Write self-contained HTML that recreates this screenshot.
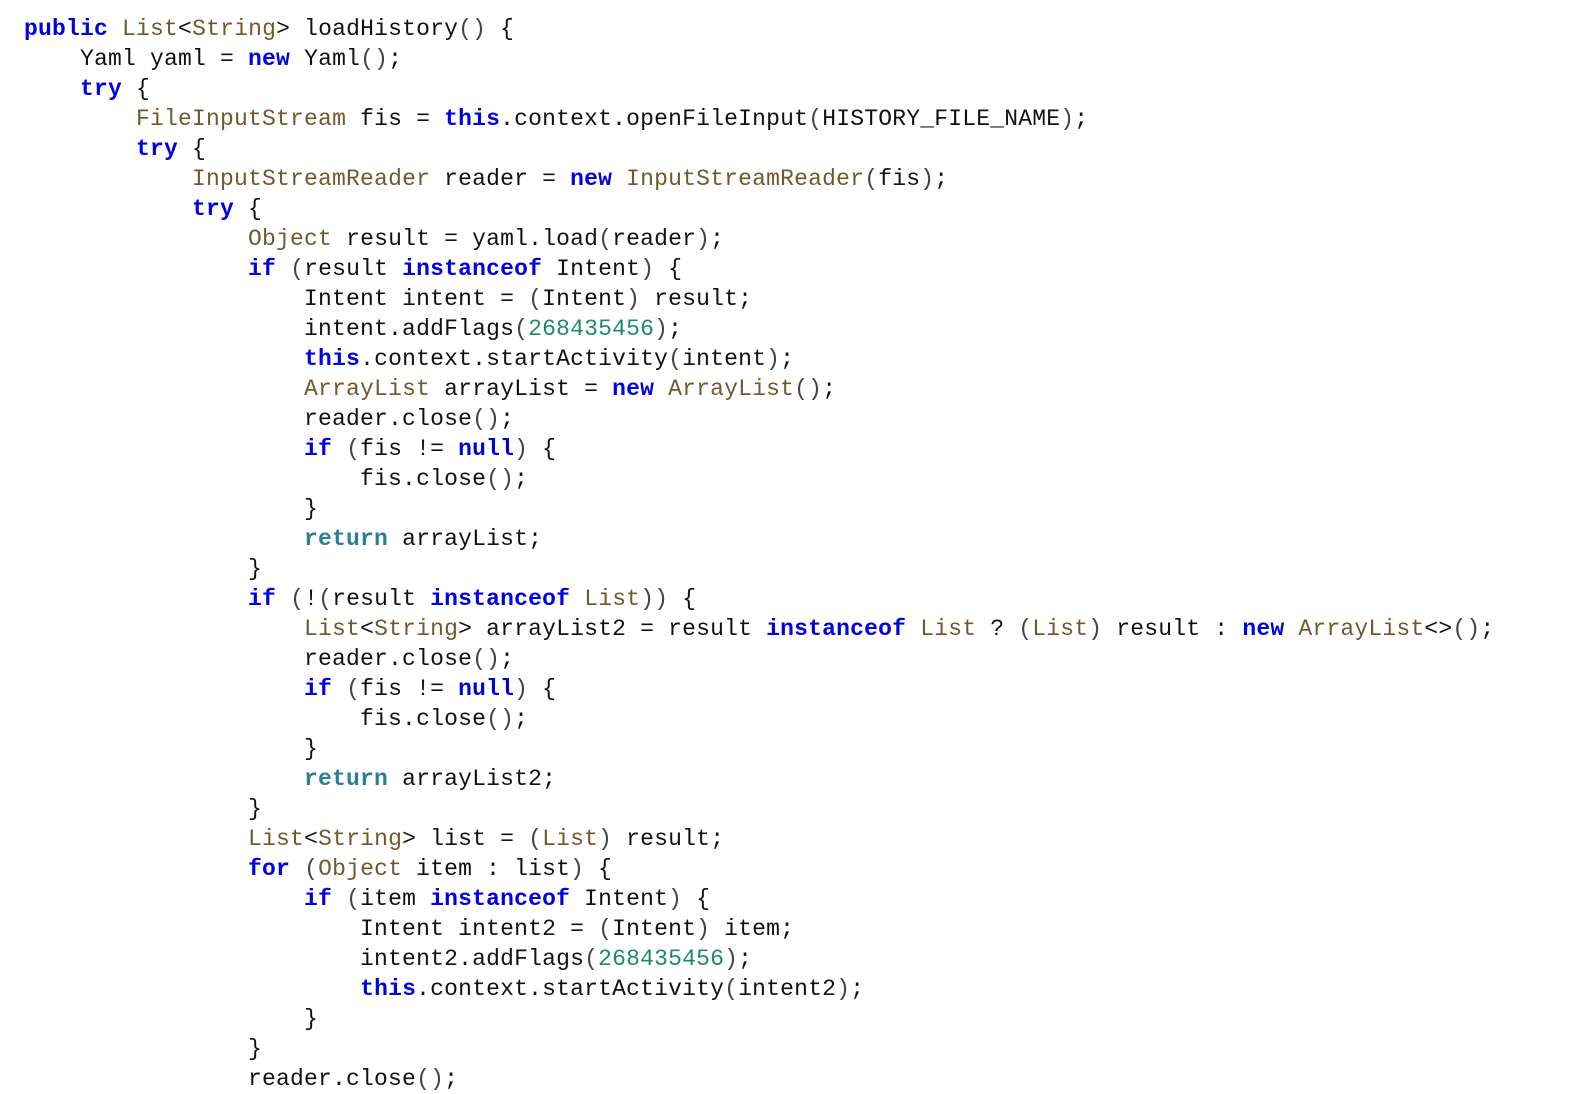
<!DOCTYPE html>
<html><head><meta charset="utf-8"><style>
html,body{margin:0;padding:0;background:#fff;width:1580px;height:1070px;overflow:hidden}
pre{margin:0;position:absolute;left:24px;top:14px;font-family:"Liberation Mono",monospace;font-size:23px;letter-spacing:0.2px;line-height:30px;color:#111}
.k{color:#0000e6;font-weight:bold}
.t{color:#74582c}
.n{color:#1e8a6a}
.r{color:#2a7f95;font-weight:bold}
.p{color:#444}
</style></head><body><pre><span class="k">public</span> <span class="t">List</span>&lt;<span class="t">String</span>&gt; loadHistory<span class="p">()</span> {
    Yaml yaml = <span class="k">new</span> Yaml<span class="p">()</span>;
    <span class="k">try</span> {
        <span class="t">FileInputStream</span> fis = <span class="k">this</span>.context.openFileInput<span class="p">(</span>HISTORY_FILE_NAME<span class="p">)</span>;
        <span class="k">try</span> {
            <span class="t">InputStreamReader</span> reader = <span class="k">new</span> <span class="t">InputStreamReader</span><span class="p">(</span>fis<span class="p">)</span>;
            <span class="k">try</span> {
                <span class="t">Object</span> result = yaml.load<span class="p">(</span>reader<span class="p">)</span>;
                <span class="k">if</span> <span class="p">(</span>result <span class="k">instanceof</span> Intent<span class="p">)</span> {
                    Intent intent = <span class="p">(</span>Intent<span class="p">)</span> result;
                    intent.addFlags<span class="p">(</span><span class="n">268435456</span><span class="p">)</span>;
                    <span class="k">this</span>.context.startActivity<span class="p">(</span>intent<span class="p">)</span>;
                    <span class="t">ArrayList</span> arrayList = <span class="k">new</span> <span class="t">ArrayList</span><span class="p">()</span>;
                    reader.close<span class="p">()</span>;
                    <span class="k">if</span> <span class="p">(</span>fis != <span class="k">null</span><span class="p">)</span> {
                        fis.close<span class="p">()</span>;
                    }
                    <span class="r">return</span> arrayList;
                }
                <span class="k">if</span> <span class="p">(</span>!<span class="p">(</span>result <span class="k">instanceof</span> <span class="t">List</span><span class="p">))</span> {
                    <span class="t">List</span>&lt;<span class="t">String</span>&gt; arrayList2 = result <span class="k">instanceof</span> <span class="t">List</span> ? <span class="p">(</span><span class="t">List</span><span class="p">)</span> result : <span class="k">new</span> <span class="t">ArrayList</span>&lt;&gt;<span class="p">()</span>;
                    reader.close<span class="p">()</span>;
                    <span class="k">if</span> <span class="p">(</span>fis != <span class="k">null</span><span class="p">)</span> {
                        fis.close<span class="p">()</span>;
                    }
                    <span class="r">return</span> arrayList2;
                }
                <span class="t">List</span>&lt;<span class="t">String</span>&gt; list = <span class="p">(</span><span class="t">List</span><span class="p">)</span> result;
                <span class="k">for</span> <span class="p">(</span><span class="t">Object</span> item : list<span class="p">)</span> {
                    <span class="k">if</span> <span class="p">(</span>item <span class="k">instanceof</span> Intent<span class="p">)</span> {
                        Intent intent2 = <span class="p">(</span>Intent<span class="p">)</span> item;
                        intent2.addFlags<span class="p">(</span><span class="n">268435456</span><span class="p">)</span>;
                        <span class="k">this</span>.context.startActivity<span class="p">(</span>intent2<span class="p">)</span>;
                    }
                }
                reader.close<span class="p">()</span>;
</pre></body></html>
